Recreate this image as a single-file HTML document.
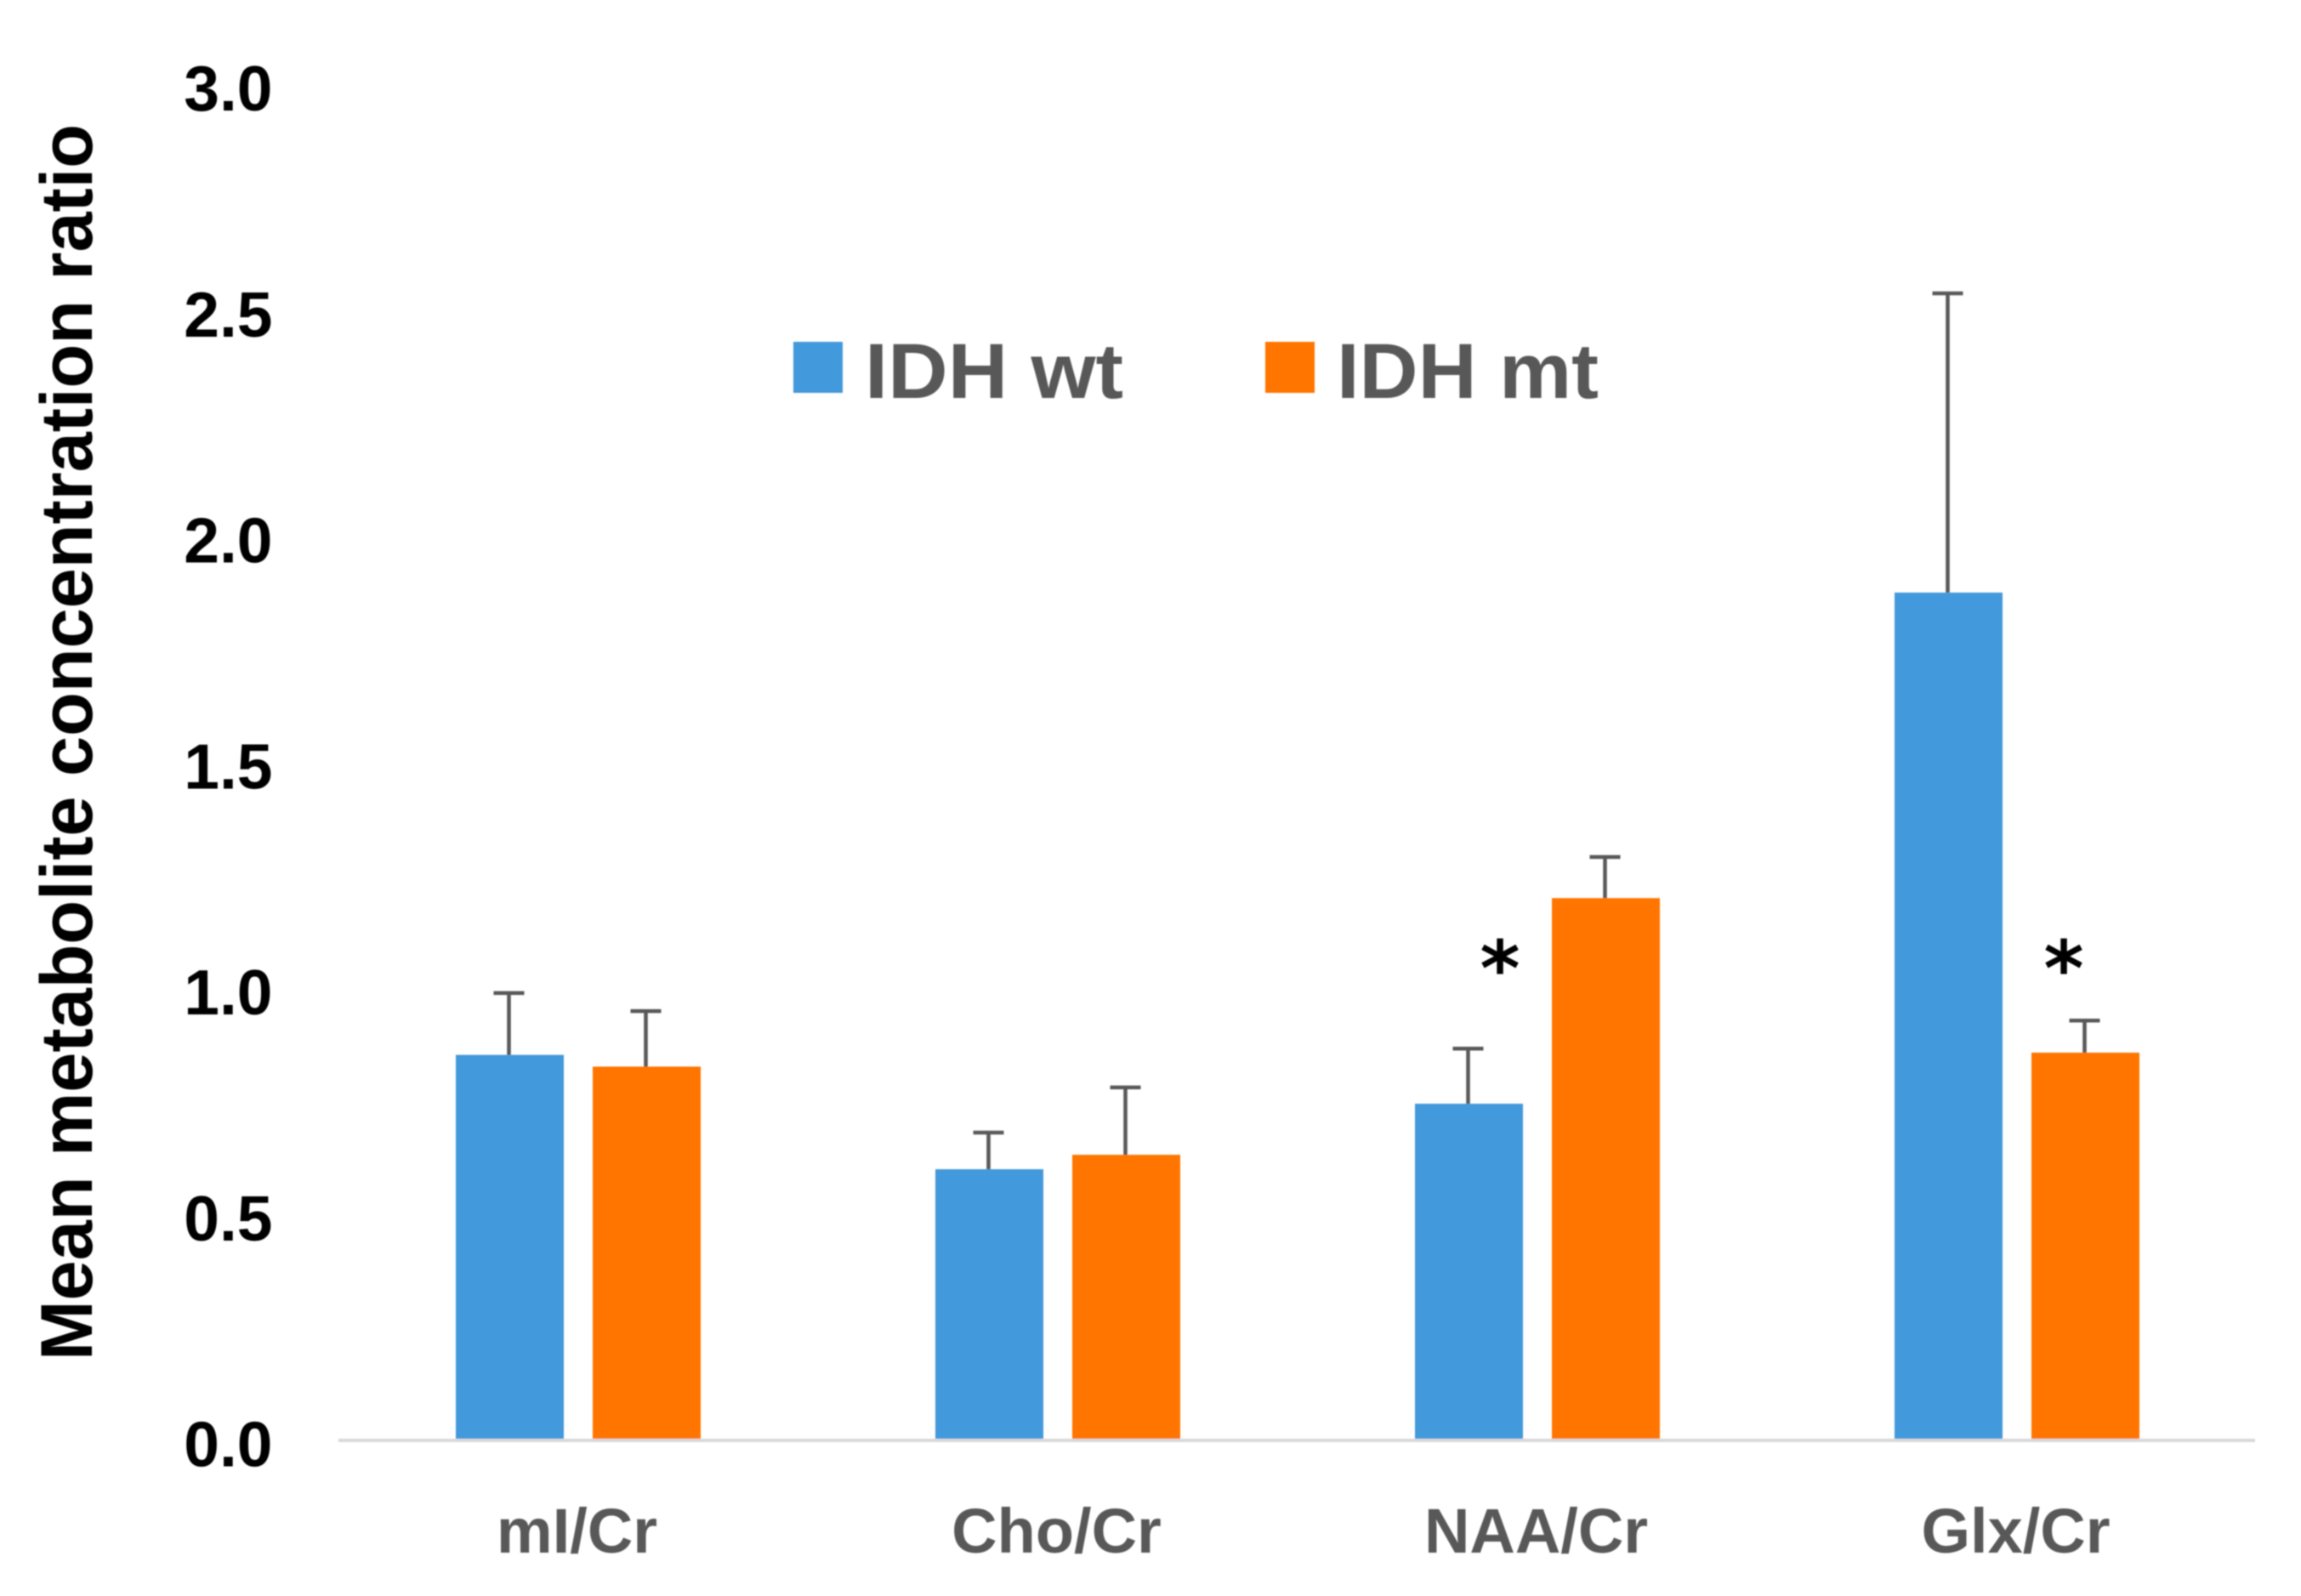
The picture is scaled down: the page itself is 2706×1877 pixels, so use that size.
<!DOCTYPE html>
<html lang="en">
<head>
<meta charset="utf-8">
<title>Mean metabolite concentration ratio by IDH status</title>
<style>
  html, body { margin: 0; padding: 0; background: #ffffff; }
  svg { display: block; }
  text { font-family: "Liberation Sans", sans-serif; font-weight: 700; }
</style>
</head>
<body>
<svg id="chart" xmlns="http://www.w3.org/2000/svg" width="2706" height="1877" viewBox="0 0 2706 1877">
  <defs>
    <filter id="soft" x="-2%" y="-2%" width="104%" height="104%">
      <feGaussianBlur stdDeviation="0.8"/>
    </filter>
  </defs>
  <rect x="0" y="0" width="2706" height="1877" fill="#ffffff"/>
  <g id="plot" filter="url(#soft)">
    <g id="bars"></g>
    <g id="errors"></g>
    <line id="x-axis" stroke="#d9d9d9" stroke-width="4"/>
    <g id="y-ticks"></g>
    <g id="x-ticks"></g>
    <g id="marks"></g>
    <text transform="translate(108,1600) rotate(-90)" font-size="86" fill="#000000" textLength="1454" lengthAdjust="spacingAndGlyphs">Mean metabolite concentration ratio</text>
    <g>
      <g>
        <rect x="933" y="402" width="58" height="60" fill="#4399db"/>
        <text x="1017" y="468" font-size="92" fill="#595959" textLength="304" lengthAdjust="spacingAndGlyphs">IDH wt</text>
      </g>
      <g>
        <rect x="1488" y="402" width="58" height="60" fill="#ff7505"/>
        <text x="1572" y="468" font-size="92" fill="#595959" textLength="308" lengthAdjust="spacingAndGlyphs">IDH mt</text>
      </g>
    </g>
  </g>
</svg>
<script>
const categories = ["mI/Cr", "Cho/Cr", "NAA/Cr", "Glx/Cr"];
const idhWt = [0.853, 0.600, 0.745, 1.876];
const idhMt = [0.827, 0.632, 1.200, 0.858];
const idhWtError = [0.137, 0.081, 0.122, 0.662];
const idhMtError = [0.123, 0.149, 0.091, 0.071];
const yTicks = [0, 0.5, 1, 1.5, 2, 2.5, 3];
const significantCategories = ["NAA/Cr", "Glx/Cr"];
const significantLevels = [1.06, 1.06];

const NS = "http://www.w3.org/2000/svg";
const axisLeft = 398, axisRight = 2652, axisY = 1694, unitHeight = 531.5;
const bandWidth = 564, barWidth = 127, barOffset = 80.5, capHalf = 18;

function yScale(v) { return axisY - v * unitHeight; }
function bandCenter(i) { return axisLeft + bandWidth * (i + 0.5); }
function make(tag, attrs, parent) {
  const el = document.createElementNS(NS, tag);
  for (const k in attrs) el.setAttribute(k, attrs[k]);
  parent.appendChild(el);
  return el;
}

const xAxis = document.getElementById("x-axis");
xAxis.setAttribute("x1", axisLeft);
xAxis.setAttribute("x2", axisRight);
xAxis.setAttribute("y1", axisY);
xAxis.setAttribute("y2", axisY);

const barsG = document.getElementById("bars");
const errG = document.getElementById("errors");
const series = [
  { key: "idh-wt", values: idhWt, errors: idhWtError, color: "#4399db", dir: -1 },
  { key: "idh-mt", values: idhMt, errors: idhMtError, color: "#ff7505", dir: 1 }
];
series.forEach(function (s) {
  s.values.forEach(function (v, i) {
    const cx = bandCenter(i) + s.dir * barOffset;
    const rect = make("rect", { x: cx - barWidth / 2, y: yScale(v), width: barWidth, height: axisY - 2 - yScale(v), fill: s.color }, barsG);
    
    

    const group = make("g", { stroke: "#595959", "stroke-width": 4.5, fill: "none" }, errG);
    
    
    const ex = cx - 1;
    const top = yScale(v + s.errors[i]);
    make("line", { x1: ex, x2: ex, y1: yScale(v), y2: top }, group);
    make("line", { x1: ex - capHalf, x2: ex + capHalf, y1: top, y2: top }, group);
  });
});

const yG = document.getElementById("y-ticks");
yTicks.forEach(function (t) {
  const label = make("text", { x: 320.5, y: yScale(t) + 30.5, "font-size": 75, fill: "#000000", "text-anchor": "end" }, yG);
  
  
  label.textContent = t.toFixed(1);
});

const xG = document.getElementById("x-ticks");
categories.forEach(function (c, i) {
  const label = make("text", { x: bandCenter(i) - 1.5, y: 1826, "font-size": 74, fill: "#595959", "text-anchor": "middle" }, xG);
  
  
  label.textContent = c;
});

const marksG = document.getElementById("marks");
significantCategories.forEach(function (c, n) {
  const i = categories.indexOf(c);
  const dx = n === 0 ? -44 : 55;
  const star = make("text", { x: bandCenter(i) + dx, y: yScale(significantLevels[n]) + 40, "font-size": 90, fill: "#000000", "text-anchor": "middle", style: 'font-family:"DejaVu Sans","Liberation Sans",sans-serif' }, marksG);
  
  
  star.textContent = "*";
});
</script>
</body>
</html>
